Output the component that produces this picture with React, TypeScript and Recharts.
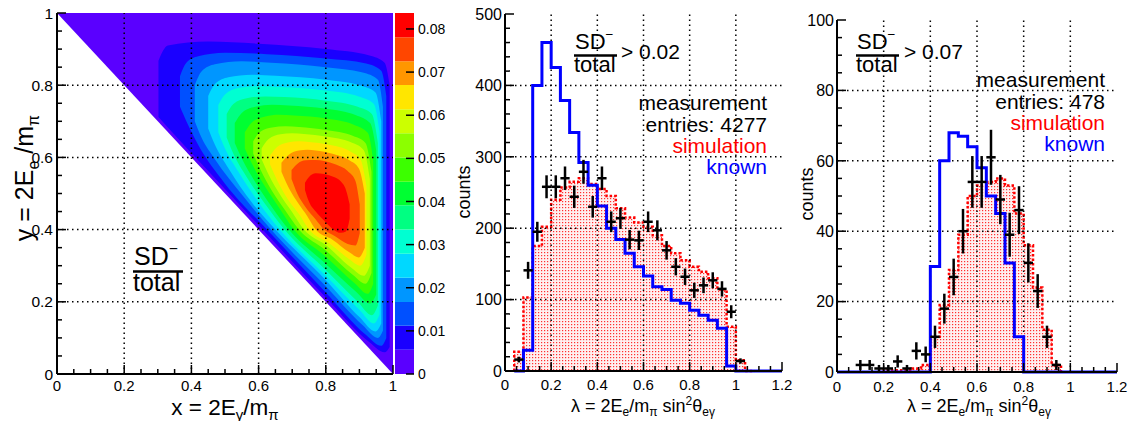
import React from "react";
import {
  Area,
  Bar,
  BarChart,
  ComposedChart,
  ErrorBar,
  Line,
  ReferenceLine,
  Scatter,
  XAxis,
  YAxis,
} from "recharts";

const FONT = "'Liberation Sans', Arial, Helvetica, sans-serif";

// ---------- left panel: SD-/total over the Dalitz plane ----------
const BAND_EDGES = [0, 0.0056, 0.0112, 0.0167, 0.0223, 0.0279, 0.0335, 0.0391, 0.0446, 0.0502, 0.0558, 0.0614, 0.067, 0.0725, 0.0781, 0.0837];
const BAND_COLORS = [
  "#5a00ff", "#1a00ff", "#0050ff", "#0096ff", "#00d8ff", "#00ffd2", "#00ff82", "#00ff32",
  "#3cff00", "#8cff00", "#ccff00", "#ffe600", "#ff9600", "#ff4600", "#ff0000",
];
const CBAR_TICKS = [0, 0.01, 0.02, 0.03, 0.04, 0.05, 0.06, 0.07, 0.08];

// allowed region x + y >= 1 : [x, yLow, yHigh]
const KINEMATIC = [[0, 1, 1], [1, 0, 1]];

// contour bands, outer to inner : [x, yLow, yHigh]
const CONTOURS = [
  [[0.302, 0.712, 0.868], [0.33, 0.683, 0.91], [0.45, 0.562, 0.921], [0.6, 0.412, 0.915], [0.8, 0.212, 0.9], [0.93, 0.088, 0.882], [0.975, 0.06, 0.862], [0.99, 0.075, 0.8]],
  [[0.366, 0.74, 0.825], [0.385, 0.7, 0.862], [0.42, 0.635, 0.88], [0.5, 0.527, 0.89], [0.625, 0.4, 0.886], [0.8, 0.226, 0.874], [0.92, 0.108, 0.86], [0.965, 0.078, 0.84], [0.98, 0.1, 0.77]],
  [[0.41, 0.7, 0.8], [0.43, 0.655, 0.838], [0.47, 0.595, 0.858], [0.55, 0.497, 0.866], [0.637, 0.4, 0.862], [0.8, 0.243, 0.85], [0.91, 0.135, 0.835], [0.955, 0.1, 0.815], [0.97, 0.12, 0.74]],
  [[0.45, 0.68, 0.77], [0.47, 0.635, 0.803], [0.51, 0.57, 0.822], [0.58, 0.475, 0.829], [0.65, 0.4, 0.826], [0.8, 0.26, 0.815], [0.9, 0.158, 0.8], [0.948, 0.118, 0.78], [0.965, 0.14, 0.7]],
  [[0.48, 0.67, 0.745], [0.5, 0.625, 0.774], [0.54, 0.56, 0.792], [0.6, 0.475, 0.797], [0.663, 0.4, 0.795], [0.8, 0.272, 0.785], [0.9, 0.178, 0.768], [0.943, 0.14, 0.748], [0.96, 0.165, 0.67]],
  [[0.505, 0.655, 0.72], [0.525, 0.61, 0.748], [0.565, 0.545, 0.764], [0.62, 0.47, 0.769], [0.677, 0.4, 0.767], [0.8, 0.288, 0.757], [0.895, 0.2, 0.74], [0.937, 0.163, 0.72], [0.955, 0.19, 0.64]],
  [[0.529, 0.64, 0.695], [0.55, 0.597, 0.723], [0.59, 0.532, 0.74], [0.64, 0.462, 0.746], [0.69, 0.4, 0.744], [0.8, 0.305, 0.735], [0.89, 0.228, 0.717], [0.932, 0.195, 0.695], [0.95, 0.22, 0.62]],
  [[0.559, 0.625, 0.67], [0.58, 0.583, 0.697], [0.62, 0.518, 0.713], [0.66, 0.462, 0.718], [0.705, 0.4, 0.716], [0.8, 0.325, 0.708], [0.885, 0.252, 0.69], [0.925, 0.222, 0.668], [0.941, 0.25, 0.59]],
  [[0.584, 0.61, 0.645], [0.605, 0.567, 0.671], [0.64, 0.507, 0.683], [0.68, 0.452, 0.686], [0.72, 0.4, 0.684], [0.8, 0.342, 0.676], [0.88, 0.275, 0.66], [0.918, 0.25, 0.64], [0.936, 0.28, 0.56]],
  [[0.609, 0.595, 0.625], [0.63, 0.552, 0.651], [0.665, 0.495, 0.664], [0.7, 0.448, 0.667], [0.735, 0.4, 0.665], [0.8, 0.357, 0.658], [0.875, 0.295, 0.642], [0.913, 0.272, 0.62], [0.931, 0.3, 0.54]],
  [[0.634, 0.58, 0.605], [0.655, 0.537, 0.629], [0.69, 0.48, 0.642], [0.72, 0.443, 0.645], [0.75, 0.4, 0.643], [0.81, 0.362, 0.635], [0.87, 0.318, 0.618], [0.903, 0.3, 0.595], [0.921, 0.33, 0.52]],
  [[0.668, 0.56, 0.585], [0.69, 0.515, 0.607], [0.72, 0.47, 0.619], [0.745, 0.437, 0.621], [0.77, 0.4, 0.619], [0.82, 0.372, 0.61], [0.87, 0.337, 0.592], [0.898, 0.323, 0.57], [0.916, 0.35, 0.5]],
  [[0.698, 0.54, 0.565], [0.715, 0.5, 0.582], [0.74, 0.462, 0.592], [0.77, 0.428, 0.593], [0.795, 0.4, 0.59], [0.83, 0.38, 0.58], [0.865, 0.36, 0.562], [0.888, 0.356, 0.535], [0.901, 0.39, 0.47]],
  [[0.738, 0.51, 0.53], [0.75, 0.477, 0.546], [0.77, 0.45, 0.556], [0.795, 0.425, 0.554], [0.82, 0.402, 0.547], [0.845, 0.391, 0.533], [0.86, 0.395, 0.51], [0.871, 0.43, 0.47]],
];

// ---------- histograms (bin width 0.04) ----------
const BIN = 0.04;

const MID_KNOWN_START = 0.04;
const MID_KNOWN = [0, 29, 400, 460, 425, 379, 334, 292, 260, 231, 200, 184, 165, 146, 133, 118, 114, 99, 95, 85, 78, 71, 60, 7, 0, 0, 0, 0, 0];
const MID_SIM_START = 0.04;
const MID_SIM = [27, 103, 175, 202, 240, 257, 265, 270, 262, 255, 245, 228, 215, 208, 202, 190, 175, 165, 155, 146, 139, 130, 114, 62, 15, 0];
const MID_MEAS_START = 0.06;
const MID_MEAS = [16, 141, 195, 258, 258, 270, 244, 279, 230, 270, 209, 214, 184, 183, 209, 197, 169, 146, 132, 113, 120, 127, 115, 83, 14];

const RIGHT_KNOWN_START = 0;
const RIGHT_KNOWN = [0, 0, 0, 0, 0, 0, 0, 0, 0, 0, 30, 60, 68, 67, 64, 58, 50, 45, 31, 10, 0, 0, 0, 0, 0, 0, 0, 0, 0, 0];
const RIGHT_SIM_START = 0.2;
const RIGHT_SIM = [0.5, 0.5, 0.5, 1, 2, 10, 19, 29, 39, 50, 53, 54, 55, 53, 45, 36, 24, 12, 2];
const RIGHT_MEAS_START = 0.1;
const RIGHT_MEAS = [2, 2, 1, 1, 3, 1, 6, 5, 10, 18, 27, 40, 54, 54, 61, 49, 39, 46, 31, 23, 10, 2];

const UNIT_TICKS = [0, 0.2, 0.4, 0.6, 0.8, 1];
const LAMBDA_TICKS = [0, 0.2, 0.4, 0.6, 0.8, 1, 1.2];
const MID_COUNT_TICKS = [0, 100, 200, 300, 400, 500];
const RIGHT_COUNT_TICKS = [0, 20, 40, 60, 80, 100];

// ---------- helpers ----------
const withMinor = (majors: number[], n: number) => {
  const out: number[] = [];
  for (let i = 0; i < majors.length - 1; i++) {
    const d = (majors[i + 1] - majors[i]) / n;
    for (let j = 0; j < n; j++) out.push(majors[i] + j * d);
  }
  out.push(majors[majors.length - 1]);
  return out;
};

const bandRows = (pts: number[][]) => pts.map(([x, lo, hi]) => ({ x, r: [lo, hi] }));

const stepRows = (start: number, vals: number[]) => [
  { x: start, y: 0 },
  ...vals.map((v, i) => ({ x: start + i * BIN, y: v })),
  { x: start + vals.length * BIN, y: 0 },
];

const measRows = (start: number, vals: number[]) =>
  vals.map((v, i) => ({ x: start + i * BIN, y: v, ex: BIN / 2, ey: Math.sqrt(v) }));

const fmtNum = (v: number) => String(v);
const fmtCbar = (v: number) => (v === 0 ? "0" : v.toFixed(2));

type Side = "bottom" | "left" | "top" | "right";
type TickOpts = { side: Side; step: number; fmt?: (v: number) => string; fs?: number; off?: number; big?: number; small?: number };

const makeTick = ({ side, step, fmt, fs = 15, off = 18, big = 9, small = 5 }: TickOpts) =>
  function Tick(props: any) {
    const { x, y, payload } = props;
    const v = Number(payload?.value);
    const r = v / step;
    const major = Math.abs(r - Math.round(r)) < 1e-6;
    const len = major ? big : small;
    const ln = { stroke: "#000", strokeWidth: 1.5 };
    const tx = { fontFamily: FONT, fontSize: fs, fill: "#000" };
    let tick = null;
    let label = null;
    if (side === "bottom") {
      tick = <line x1={x} x2={x} y1={y} y2={y - len} {...ln} />;
      if (fmt && major) label = <text x={x} y={y + off} textAnchor="middle" {...tx}>{fmt(v)}</text>;
    } else if (side === "top") {
      tick = <line x1={x} x2={x} y1={y} y2={y + len} {...ln} />;
    } else if (side === "left") {
      tick = <line x1={x} x2={x + len} y1={y} y2={y} {...ln} />;
      if (fmt && major) label = <text x={x - off} y={y + fs * 0.36} textAnchor="end" {...tx}>{fmt(v)}</text>;
    } else {
      tick = <line x1={x} x2={x - len} y1={y} y2={y} {...ln} />;
      if (fmt && major) label = <text x={x + off} y={y + fs * 0.36} textAnchor="start" {...tx}>{fmt(v)}</text>;
    }
    return (
      <g>
        {tick}
        {label}
      </g>
    );
  };

const NoMark = () => <g />;
const FRAME = { stroke: "#000", strokeWidth: 2 };
const GRID = { stroke: "#000", strokeWidth: 1.5, strokeDasharray: "1.5 3.5" };

const axisCommon = { tickLine: false, tickSize: 0, tickMargin: 0, interval: 0 as const, axisLine: FRAME };

// ---------- panels ----------
function DalitzPanel() {
  const minor = withMinor(UNIT_TICKS, 4);
  const grid = UNIT_TICKS.slice(1, -1);
  return (
    <ComposedChart width={400} height={421} margin={{ top: 13, right: 7, bottom: 0, left: 0 }}>
      <XAxis type="number" dataKey="x" domain={[0, 1]} ticks={minor} height={47} {...axisCommon}
        tick={makeTick({ side: "bottom", step: 0.2, fmt: fmtNum, off: 17 })} />
      <XAxis xAxisId="t" orientation="top" type="number" domain={[0, 1]} ticks={minor} height={0} {...axisCommon}
        tick={makeTick({ side: "top", step: 0.2 })} />
      <YAxis type="number" domain={[0, 1]} ticks={minor} width={57} {...axisCommon}
        tick={makeTick({ side: "left", step: 0.2, fmt: fmtNum, off: 4, fs: 15.5 })} />
      <YAxis yAxisId="r" orientation="right" type="number" domain={[0, 1]} ticks={minor} width={0} {...axisCommon}
        tick={makeTick({ side: "right", step: 0.2 })} />
      <Area data={bandRows(KINEMATIC)} dataKey="r" type="linear" stroke="none" fill={BAND_COLORS[0]} fillOpacity={1}
        isAnimationActive={false} dot={false} activeDot={false} />
      {CONTOURS.map((c, i) => (
        <Area key={i} data={bandRows(c)} dataKey="r" type="monotone" stroke="none" fill={BAND_COLORS[i + 1]}
          fillOpacity={1} isAnimationActive={false} dot={false} activeDot={false} />
      ))}
      {grid.map((g) => <ReferenceLine key={"x" + g} x={g} {...GRID} />)}
      {grid.map((g) => <ReferenceLine key={"y" + g} y={g} {...GRID} />)}
    </ComposedChart>
  );
}

function ColorBar() {
  const row: Record<string, number | string> = { k: "z" };
  BAND_COLORS.forEach((_, i) => {
    row["b" + i] = BAND_EDGES[i + 1] - BAND_EDGES[i];
  });
  return (
    <BarChart width={60} height={421} data={[row]} margin={{ top: 13, right: 0, bottom: 47, left: 5 }} barCategoryGap={0}>
      <XAxis dataKey="k" hide />
      <YAxis orientation="right" type="number" width={36} domain={[0, BAND_EDGES[BAND_EDGES.length - 1]]}
        allowDataOverflow ticks={CBAR_TICKS} tickLine={false} tickSize={0} tickMargin={0} interval={0} axisLine={false}
        tick={makeTick({ side: "right", step: 0.01, fmt: fmtCbar, fs: 14, off: 4, big: 8 })} />
      {BAND_COLORS.map((c, i) => (
        <Bar key={i} dataKey={"b" + i} stackId="c" fill={c} isAnimationActive={false} />
      ))}
    </BarChart>
  );
}

type HistProps = {
  width: number; top: number; right: number; yWidth: number; xHeight: number; yMax: number;
  yTicks: number[]; yMinor: number; xOff: number;
  known: { x: number; y: number }[]; sim: { x: number; y: number }[];
  meas: { x: number; y: number; ex: number; ey: number }[];
};

function HistPanel(p: HistProps) {
  const xMinor = withMinor(LAMBDA_TICKS, 4);
  const yMinor = withMinor(p.yTicks, p.yMinor);
  const yStep = p.yTicks[1] - p.yTicks[0];
  return (
    <ComposedChart width={p.width} height={421} margin={{ top: p.top, right: p.right, bottom: 0, left: 0 }}>
      <XAxis type="number" dataKey="x" domain={[0, 1.2]} ticks={xMinor} height={p.xHeight} {...axisCommon}
        tick={makeTick({ side: "bottom", step: 0.2, fmt: fmtNum, off: p.xOff })} />
      <XAxis xAxisId="t" orientation="top" type="number" domain={[0, 1.2]} ticks={xMinor} height={0} {...axisCommon}
        tick={makeTick({ side: "top", step: 0.2 })} />
      <YAxis type="number" domain={[0, p.yMax]} ticks={yMinor} width={p.yWidth} {...axisCommon}
        tick={makeTick({ side: "left", step: yStep, fmt: fmtNum, off: 3, fs: 16 })} />
      <YAxis yAxisId="r" orientation="right" type="number" domain={[0, p.yMax]} ticks={yMinor} width={0} {...axisCommon}
        tick={makeTick({ side: "right", step: yStep })} />
      <Area data={p.sim} dataKey="y" type="stepAfter" stroke="#ff0000" strokeWidth={2.5} strokeDasharray="2.5 2"
        fill="url(#simDots)" fillOpacity={1} isAnimationActive={false} dot={false} activeDot={false} />
      {LAMBDA_TICKS.slice(1, -1).map((g) => <ReferenceLine key={"x" + g} x={g} {...GRID} />)}
      {p.yTicks.slice(1, -1).map((g) => <ReferenceLine key={"y" + g} y={g} {...GRID} />)}
      <Line data={p.known} dataKey="y" type="stepAfter" stroke="#0000ff" strokeWidth={3} dot={false} activeDot={false}
        isAnimationActive={false} />
      <Scatter data={p.meas} dataKey="y" fill="#000" shape={NoMark} isAnimationActive={false}>
        <ErrorBar dataKey="ey" direction="y" width={0} stroke="#000" strokeWidth={2.5} />
        <ErrorBar dataKey="ex" direction="x" width={0} stroke="#000" strokeWidth={2.5} />
      </Scatter>
    </ComposedChart>
  );
}

// ---------- text overlay ----------
function Fraction({ x, y, fs, bar }: { x: number; y: number; fs: number; bar: number }) {
  return (
    <g>
      <text x={x + 1} y={y} fontSize={fs}>
        SD<tspan fontSize={fs * 0.62} dy={-fs * 0.45}>−</tspan>
      </text>
      <line x1={x} x2={x + bar} y1={y + 6.5} y2={y + 6.5} stroke="#000" strokeWidth={2.5} />
      <text x={x} y={y + fs + 1} fontSize={fs}>total</text>
    </g>
  );
}

function LambdaTitle({ x, y }: { x: number; y: number }) {
  return (
    <text x={x} y={y} fontSize={18} textAnchor="middle">
      λ = 2E<tspan fontSize={12} dy={4}>e</tspan><tspan dy={-4}>/m</tspan><tspan fontSize={12} dy={4}>π</tspan>
      <tspan dy={-4}> sin</tspan><tspan fontSize={12} dy={-7}>2</tspan><tspan dy={7}>θ</tspan>
      <tspan fontSize={12} dy={4}>eγ</tspan>
    </text>
  );
}

function Legend({ x, y, entries }: { x: number; y: number; entries: string }) {
  const fs = 21;
  return (
    <g fontSize={fs} textAnchor="end">
      <text x={x} y={y}>measurement</text>
      <text x={x} y={y + 21.5}>{entries}</text>
      <text x={x} y={y + 43} fill="#ff0000">simulation</text>
      <text x={x} y={y + 64} fill="#0000ff">known</text>
    </g>
  );
}

function Overlay() {
  return (
    <svg width={1133} height={421} style={{ position: "absolute", left: 0, top: 0, pointerEvents: "none" }}
      fontFamily={FONT} fill="#000">
      {/* left panel */}
      <text x={225} y={414.5} fontSize={22.5} textAnchor="middle">
        x = 2E<tspan fontSize={15} dy={5}>γ</tspan><tspan dy={-5}>/m</tspan><tspan fontSize={15} dy={5}>π</tspan>
      </text>
      <text x={33} y={178} fontSize={25} textAnchor="middle" transform="rotate(-90 33 178)">
        y = 2E<tspan fontSize={16} dy={6}>e</tspan><tspan dy={-6}> /m</tspan><tspan fontSize={16} dy={6}>π</tspan>
      </text>
      <Fraction x={133} y={265} fs={25} bar={50} />

      {/* middle panel */}
      <Fraction x={574} y={49} fs={22} bar={43} />
      <text x={621} y={59} fontSize={21}>&gt; 0.02</text>
      <Legend x={767} y={110} entries="entries: 4277" />
      <LambdaTitle x={643} y={412} />
      <text x={470} y={192} fontSize={18} textAnchor="middle" transform="rotate(-90 470 192)">counts</text>

      {/* right panel */}
      <Fraction x={856} y={49} fs={22} bar={43} />
      <text x={904} y={59} fontSize={21}>&gt; 0.07</text>
      <Legend x={1105} y={87} entries="entries: 478" />
      <LambdaTitle x={979} y={412} />
      <text x={813} y={194} fontSize={18} textAnchor="middle" transform="rotate(-90 813 194)">counts</text>
    </svg>
  );
}

export default function App() {
  const abs = (left: number): React.CSSProperties => ({ position: "absolute", left, top: 0 });
  return (
    <div style={{ position: "absolute", left: 0, top: 0, width: 1133, height: 421, background: "#fff", overflow: "hidden" }}>
      <svg width={0} height={0} style={{ position: "absolute" }}>
        <defs>
          <pattern id="simDots" width={3} height={3} patternUnits="userSpaceOnUse">
            <rect width={3} height={3} fill="#fff0f0" />
            <rect width={1.2} height={1.2} fill="#ff3030" />
          </pattern>
        </defs>
      </svg>
      <div style={abs(0)}>
        <DalitzPanel />
      </div>
      <div style={abs(390)}>
        <ColorBar />
      </div>
      <div style={abs(445)}>
        <HistPanel width={355} top={14} right={18} yWidth={60} xHeight={50} yMax={500} yTicks={MID_COUNT_TICKS}
          yMinor={5} xOff={19} known={stepRows(MID_KNOWN_START, MID_KNOWN)} sim={stepRows(MID_SIM_START, MID_SIM)}
          meas={measRows(MID_MEAS_START, MID_MEAS)} />
      </div>
      <div style={abs(790)}>
        <HistPanel width={343} top={20} right={16} yWidth={47} xHeight={49} yMax={100} yTicks={RIGHT_COUNT_TICKS}
          yMinor={4} xOff={20} known={stepRows(RIGHT_KNOWN_START, RIGHT_KNOWN)}
          sim={stepRows(RIGHT_SIM_START, RIGHT_SIM)} meas={measRows(RIGHT_MEAS_START, RIGHT_MEAS)} />
      </div>
      <Overlay />
    </div>
  );
}
